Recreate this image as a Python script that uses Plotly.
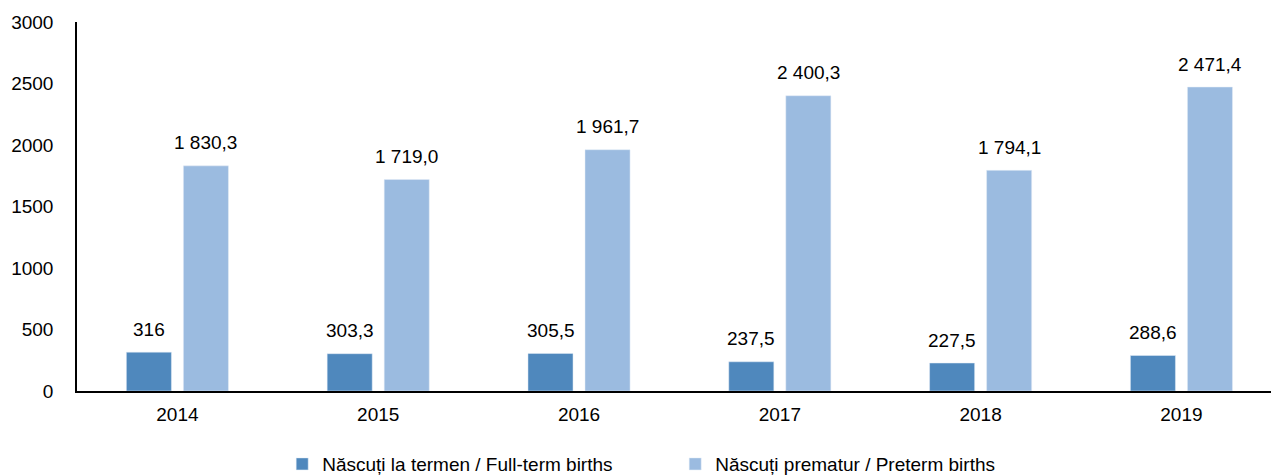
import plotly.graph_objects as go

years = ["2014", "2015", "2016", "2017", "2018", "2019"]
full_term = [316, 303.3, 305.5, 237.5, 227.5, 288.6]
preterm = [1830.3, 1719.0, 1961.7, 2400.3, 1794.1, 2471.4]
name_full = "Născuți la termen / Full-term births"
name_pre = "Născuți prematur / Preterm births"
y_ticks = [0, 500, 1000, 1500, 2000, 2500, 3000]


def fmt(v):
    if isinstance(v, int):
        return f"{v:,}".replace(",", " ")
    return f"{v:,.1f}".replace(",", " ").replace(".", ",")


FONT = "Liberation Sans, Arial, sans-serif"
FS = 19
fig = go.Figure()
fig.add_trace(go.Bar(x=years, y=full_term, name=name_full, marker_color="#4F88BD"))
fig.add_trace(go.Bar(x=years, y=preterm, name=name_pre, marker_color="#9BBBE0"))

annotations = []
for series, shift in ((full_term, -28.5), (preterm, 28.5)):
    for i, v in enumerate(series):
        annotations.append(dict(
            x=i, y=v, xref="x", yref="y", text=fmt(v), showarrow=False,
            xshift=shift, yshift=23,
            font=dict(family=FONT, size=FS, color="#000000"),
        ))

fig.update_layout(
    width=1271, height=475,
    margin=dict(l=77, r=0, t=22, b=84, autoexpand=False),
    paper_bgcolor="white", plot_bgcolor="white",
    barmode="group", bargap=0.432, bargroupgap=0.21,
    font=dict(family=FONT, size=FS, color="#000000"),
    showlegend=True,
    legend=dict(orientation="h", x=0.501, xanchor="center", y=-0.198, yanchor="middle",
                entrywidth=348, entrywidthmode="pixels",
                font=dict(family=FONT, size=FS)),
    annotations=annotations,
    xaxis=dict(type="category", range=[-0.5, 5.446], showline=True, linecolor="#000000",
               linewidth=1.5, ticks="", showgrid=False, tickfont=dict(size=FS),
               ticklabelstandoff=5),
    yaxis=dict(range=[0, 3000], tickvals=y_ticks, showline=True, linecolor="#000000",
               linewidth=1.5, ticks="", showgrid=False, zeroline=False,
               ticklabelstandoff=18, tickfont=dict(size=FS)),
)
fig.write_html("out.html", config={"displayModeBar": False},
               post_script="document.body.style.margin='0';document.body.style.overflow='hidden';")
